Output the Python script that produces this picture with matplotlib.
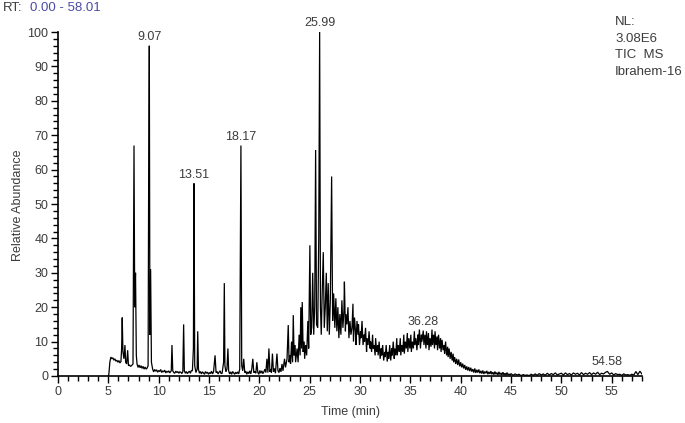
import matplotlib
matplotlib.use('Agg')
import matplotlib.pyplot as plt
from matplotlib.ticker import MultipleLocator

plt.rcParams['font.family'] = ['Liberation Sans', 'DejaVu Sans']

# ------------------------------------------------------------------
# TIC trace (retention time in min, % abundance)
# ------------------------------------------------------------------
rt_early = [5.00, 5.05, 5.15, 5.25, 5.35, 5.45, 5.55, 5.65, 5.75, 5.85, 5.95, 6.05, 6.15, 6.25,
            6.32, 6.38, 6.45, 6.55, 6.65, 6.72, 6.82, 6.92, 7.00, 7.10, 7.20, 7.30, 7.45, 7.55,
            7.62, 7.70, 7.78, 7.85, 7.95, 8.05, 8.15, 8.25, 8.35, 8.45, 8.55, 8.65, 8.75, 8.85,
            8.95, 9.00, 9.07, 9.13, 9.20, 9.28, 9.40, 9.50, 9.60, 9.70, 9.80, 9.90, 10.0, 10.1,
            10.2, 10.3, 10.4, 10.5, 10.6, 10.7, 10.8, 10.9, 11.0, 11.1, 11.25, 11.32, 11.40,
            11.5, 11.6, 11.7, 11.8, 11.9, 12.0, 12.1, 12.2, 12.3, 12.4, 12.48, 12.55, 12.65,
            12.75, 12.85, 12.95, 13.05, 13.15, 13.25, 13.35, 13.45, 13.51, 13.58, 13.7, 13.82,
            13.88, 13.95, 14.05, 14.15, 14.25, 14.35, 14.45, 14.55, 14.65, 14.75, 14.85, 14.95,
            15.05, 15.15, 15.25, 15.35, 15.45, 15.6, 15.7, 15.8, 15.9, 16.0, 16.1, 16.2, 16.3,
            16.45, 16.52, 16.58, 16.68, 16.78, 16.88, 16.95, 17.05, 17.15, 17.25, 17.35, 17.45,
            17.55, 17.65, 17.75, 17.85, 17.95, 18.05, 18.17, 18.25, 18.35, 18.45, 18.55, 18.65,
            18.75, 18.85, 18.95, 19.05, 19.15, 19.25, 19.35, 19.45, 19.55, 19.65, 19.75, 19.85,
            19.95, 20.05, 20.15, 20.25, 20.35, 20.45, 20.55, 20.65, 20.75, 20.85, 20.95, 21.05,
            21.15, 21.2, 21.3, 21.4, 21.5, 21.6, 21.75, 21.85, 21.95, 22.05, 22.15]
ab_early = [0.0, 0.5, 4.0, 5.5, 5.0, 5.3, 4.6, 5.0, 4.3, 4.6, 4.0, 4.5, 3.8, 4.2,
            8.0, 17.0, 7.0, 5.0, 9.0, 4.0, 3.5, 7.5, 3.0, 3.2, 2.8, 3.0, 3.5, 67.0,
            20.0, 30.0, 6.0, 3.5, 2.5, 3.2, 2.4, 3.0, 2.2, 2.8, 2.0, 2.6, 2.0, 2.3,
            3.0, 52.0, 96.0, 12.0, 31.0, 4.0, 2.0, 1.2, 1.9, 1.4, 1.8, 1.1, 1.6, 1.3,
            1.9, 1.0, 1.5, 1.2, 1.7, 0.9, 1.4, 1.1, 1.5, 0.9, 1.5, 9.0, 1.5,
            1.0, 0.8, 1.4, 1.0, 1.3, 0.8, 1.2, 1.1, 0.7, 1.3, 15.0, 1.5, 0.8,
            1.3, 0.7, 1.1, 1.4, 0.8, 1.6, 1.5, 8.0, 56.0, 3.0, 1.0, 2.0,
            13.0, 2.0, 0.8, 1.3, 0.6, 1.2, 0.9, 0.5, 1.3, 0.8, 1.1, 0.5,
            1.0, 0.7, 1.4, 0.6, 1.2, 6.0, 1.0, 1.3, 0.6, 1.1, 1.5, 0.7, 0.8,
            4.0, 27.0, 3.0, 1.2, 2.0, 8.0, 1.5, 0.6, 1.2, 0.5, 1.3, 0.9,
            0.5, 1.1, 0.7, 1.2, 0.6, 2.0, 67.0, 3.0, 1.5, 5.0, 1.0, 1.4,
            0.5, 1.2, 0.7, 1.5, 0.6, 2.0, 5.0, 1.0, 1.3, 0.8, 4.0, 1.0,
            0.5, 1.6, 0.8, 1.5, 0.7, 1.2, 2.0, 1.0, 5.0, 1.0, 8.0, 1.2,
            2.0, 1.0, 6.5, 1.2, 2.2, 0.8, 6.5, 1.5, 1.0, 2.3, 1.2]

rt_mid = [22.25, 22.35, 22.5, 22.6, 22.75, 22.87, 22.95, 23.05, 23.1, 23.2, 23.3, 23.37, 23.45,
          23.55, 23.6, 23.75, 23.85, 23.95, 24.05, 24.12, 24.2, 24.26, 24.35, 24.45, 24.5,
          24.6, 24.7, 24.82, 24.9, 25.02, 25.1, 25.2, 25.3, 25.4, 25.5, 25.59, 25.68, 25.8,
          25.9, 25.99, 26.07, 26.15, 26.25, 26.35, 26.45, 26.55, 26.65, 26.75, 26.84, 26.95,
          27.05, 27.18, 27.28, 27.38, 27.5, 27.6, 27.7, 27.8, 27.9]
ab_mid = [3.5, 1.5, 5.0, 2.5, 5.0, 14.8, 4.0, 6.0, 3.5, 10.0, 4.0, 17.7, 6.0,
          9.0, 4.0, 8.0, 4.0, 12.0, 6.0, 20.0, 8.0, 21.5, 7.0, 10.0, 5.0,
          9.0, 6.0, 16.0, 8.0, 38.0, 12.0, 14.0, 30.0, 12.0, 20.0, 65.7, 15.0, 14.0,
          40.0, 100.0, 20.0, 12.0, 25.0, 36.0, 14.0, 20.0, 30.0, 13.0, 27.0, 12.0,
          22.0, 58.0, 16.0, 24.0, 14.0, 22.6, 13.0, 20.0, 11.0]

rt_hump = [28.0, 28.1, 28.2, 28.3, 28.4, 28.45, 28.55, 28.6, 28.7, 28.8, 28.9, 29.0, 29.1,
           29.2, 29.3, 29.35, 29.45, 29.55, 29.6, 29.7, 29.8, 29.85, 29.95, 30.05, 30.1, 30.2,
           30.3, 30.4, 30.45, 30.55, 30.65, 30.7, 30.8, 30.9, 31.0, 31.05, 31.15, 31.25, 31.3,
           31.4, 31.5, 31.55, 31.65, 31.75, 31.8, 31.9, 32.0, 32.1, 32.15, 32.25, 32.35, 32.45,
           32.5, 32.6, 32.7, 32.8, 32.85, 32.95, 33.05, 33.15, 33.2, 33.3, 33.4, 33.45, 33.55,
           33.65, 33.7, 33.8, 33.9, 34.0, 34.05, 34.15, 34.25, 34.35, 34.4, 34.5, 34.6, 34.7,
           34.75, 34.85, 34.95, 35.05, 35.1, 35.2, 35.3, 35.4, 35.45, 35.55, 35.65, 35.75,
           35.8, 35.9, 36.0, 36.1, 36.15, 36.28, 36.35, 36.45, 36.55, 36.6, 36.7, 36.8, 36.85,
           36.95, 37.05, 37.15, 37.2, 37.3, 37.4, 37.45, 37.55, 37.65, 37.7, 37.8, 37.9, 38.0,
           38.05, 38.15, 38.25, 38.35, 38.4, 38.5, 38.6, 38.7, 38.75, 38.85, 38.95, 39.05,
           39.15, 39.25, 39.3, 39.4, 39.5, 39.6, 39.7, 39.8, 39.9, 40.0, 40.1, 40.2, 40.3,
           40.4, 40.5, 40.6, 40.7, 40.8, 40.9, 41.0, 41.1, 41.2, 41.3, 41.4, 41.5, 41.6, 41.7,
           41.8, 41.9, 42.0, 42.1, 42.2, 42.3, 42.4, 42.5, 42.6, 42.7, 42.8, 42.9, 43.0, 43.1,
           43.2, 43.3, 43.4, 43.5, 43.6, 43.7, 43.8, 43.9, 44.0, 44.1, 44.2, 44.3, 44.4, 44.5,
           44.6, 44.7, 44.8, 44.9]
ab_hump = [18.0, 12.0, 22.0, 14.0, 19.0, 27.4, 13.0, 18.0, 15.0, 20.0, 11.0, 16.0, 12.0,
           14.0, 21.0, 10.0, 17.0, 13.0, 9.0, 16.0, 12.0, 15.0, 9.0, 13.0, 11.0, 16.0,
           9.0, 12.0, 10.0, 14.0, 7.0, 11.0, 9.0, 13.0, 8.0, 10.0, 7.0, 12.0, 8.0,
           9.0, 6.0, 11.0, 7.0, 9.0, 6.0, 10.0, 5.0, 8.0, 6.0, 9.0, 4.5, 7.0,
           5.5, 9.0, 4.2, 7.0, 5.0, 9.0, 4.5, 8.0, 6.0, 10.0, 5.0, 8.0, 6.0,
           11.0, 6.0, 9.0, 7.0, 11.0, 6.0, 9.0, 7.0, 12.0, 6.5, 10.0, 8.0, 12.5,
           7.0, 11.0, 8.0, 12.0, 7.0, 10.0, 8.0, 13.0, 9.0, 11.0, 7.5, 12.0,
           9.0, 13.5, 8.0, 12.0, 10.0, 13.2, 9.0, 12.0, 8.0, 13.0, 9.0, 12.5, 7.5,
           11.0, 8.5, 13.5, 9.0, 12.0, 8.0, 13.0, 9.0, 11.5, 7.5, 12.0, 8.0, 11.0,
           7.0, 10.5, 7.5, 9.0, 6.5, 10.0, 6.0, 8.5, 5.5, 8.0, 5.0, 7.0,
           4.5, 6.5, 4.0, 5.5, 3.5, 5.0, 3.2, 4.8, 2.8, 4.0, 2.5, 3.6, 2.2,
           3.2, 1.8, 2.8, 1.6, 2.6, 1.4, 2.4, 1.3, 2.0, 1.0, 2.2, 0.9, 1.8, 1.0,
           1.9, 0.8, 1.5, 0.7, 1.6, 0.6, 1.3, 0.8, 1.5, 0.5, 1.2, 0.6, 1.4, 0.5,
           1.1, 0.4, 1.3, 0.5, 1.0, 0.3, 1.2, 0.4, 0.9, 0.3, 1.1, 0.3, 0.8, 0.2,
           1.0, 0.3, 0.6, 0.2]

rt_tail = [45.0, 45.2, 45.4, 45.6, 45.8, 46.0, 46.2, 46.4, 46.6, 46.8, 47.0, 47.2, 47.4,
           47.6, 47.8, 48.0, 48.2, 48.4, 48.6, 48.8, 49.0, 49.2, 49.4, 49.6, 49.8, 50.0,
           50.2, 50.4, 50.6, 50.8, 51.0, 51.2, 51.4, 51.6, 51.8, 52.0, 52.2, 52.4, 52.6,
           52.8, 53.0, 53.2, 53.4, 53.6, 53.8, 54.0, 54.2, 54.4, 54.58, 54.8, 55.0, 55.2,
           55.4, 55.6, 55.8, 56.0, 56.2, 56.4, 56.6, 56.8, 57.0, 57.2, 57.4, 57.6, 57.8,
           58.0]
ab_tail = [0.7, 0.2, 0.6, 0.3, 0.5, 0.1, 0.4, 0.2, 0.3, 0.1, 0.5, 0.2, 0.6,
           0.2, 0.7, 0.3, 0.6, 0.2, 0.8, 0.3, 0.7, 0.4, 0.9, 0.3, 0.6, 0.8,
           0.3, 0.9, 0.4, 0.7, 0.3, 0.9, 0.5, 0.8, 0.3, 1.0, 0.4, 0.8, 0.5,
           1.0, 0.4, 0.9, 0.5, 1.1, 0.4, 0.8, 0.6, 1.1, 1.3, 0.5, 0.9, 0.3,
           0.7, 0.4, 0.5, 0.2, 0.6, 0.3, 0.4, 0.2, 0.5, 0.3, 1.3, 0.4, 1.4,
           0.6]

# labelled peaks
peak_rt = [9.07, 13.51, 18.17, 25.99, 36.28, 54.58]
peak_ab = [96.0, 56.0, 67.0, 100.0, 13.2, 1.5]
peak_lbl = ['9.07', '13.51', '18.17', '25.99', '36.28', '54.58']

header_lines = ['NL:', '3.08E6', 'TIC  MS', 'Ibrahem-16']

X_MAX = 58.01
TEXT_COL = '#3c3c3c'


def main():
    fig = plt.figure(figsize=(6.85, 4.23), dpi=100)
    ax = fig.add_axes([58 / 685, 1 - 376 / 423, 584 / 685, 344 / 423])

    rt = rt_early + rt_mid + rt_hump + rt_tail
    ab = ab_early + ab_mid + ab_hump + ab_tail
    ax.plot(rt, ab, color='black', lw=0.9, solid_joinstyle='miter')

    for t, a, s in zip(peak_rt, peak_ab, peak_lbl):
        ax.annotate(s, (t, a), xytext=(0, 2), textcoords='offset points',
                    ha='center', va='bottom', fontsize=9, color=TEXT_COL,
                    annotation_clip=False)

    ax.set_xlim(0, X_MAX)
    ax.set_ylim(0, 100)
    ax.xaxis.set_major_locator(MultipleLocator(5))
    ax.xaxis.set_minor_locator(MultipleLocator(1))
    ax.yaxis.set_major_locator(MultipleLocator(10))
    ax.yaxis.set_minor_locator(MultipleLocator(2))
    ax.tick_params(which='major', length=5, width=1.0, labelsize=9,
                   labelcolor=TEXT_COL, pad=2)
    ax.tick_params(which='minor', length=3.5, width=1.0)
    for side in ('top', 'right'):
        ax.spines[side].set_visible(False)
    for side in ('left', 'bottom'):
        ax.spines[side].set_linewidth(1.2)

    fig.text(350 / 685, 1 - 412 / 423, 'Time (min)', ha='center', va='center',
             fontsize=9, color=TEXT_COL)
    fig.text(18 / 685, 1 - 205 / 423, 'Relative Abundance', ha='center',
             va='center', rotation=90, fontsize=9, color=TEXT_COL)

    # run-time range header
    fig.text(3 / 685, 1 - 8 / 423, 'RT:', ha='left', va='center',
             fontsize=9.5, color=TEXT_COL)
    fig.text(30 / 685, 1 - 8 / 423, '0.00 - 58.01', ha='left', va='center',
             fontsize=9.5, color='#4a4aa8')

    for i, line in enumerate(header_lines):
        fig.text(615 / 685, 1 - (22 + 16.7 * i) / 423, line, ha='left',
                 va='center', fontsize=9.5, color=TEXT_COL)

    fig.savefig('out.png', dpi=100)
    plt.close(fig)


if __name__ == '__main__':
    main()
